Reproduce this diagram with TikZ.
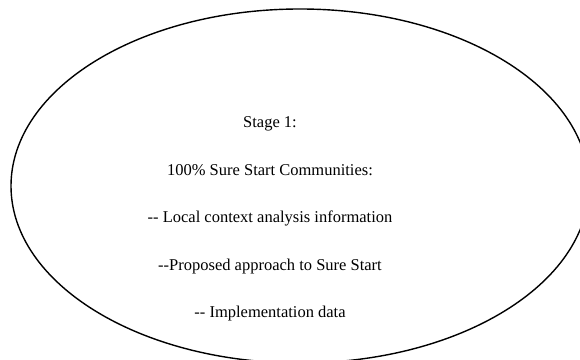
\documentclass[tikz,border=0pt]{standalone}
\usepackage{fontspec}
\setmainfont{Liberation Serif}
\usetikzlibrary{positioning}

\begin{document}
\begin{tikzpicture}[
  x=1pt, y=1pt,
  every node/.style={font=\fontsize{16.5}{20}\selectfont},
  outline/.style={draw=black, line width=1.4pt},
  item/.style={anchor=base, inner sep=0pt}
]

% page frame, the oval runs off the right and bottom edges
\useasboundingbox (0,0) rectangle (580,359);
\clip (0,0) rectangle (580,359);

\draw[outline] (300,173) ellipse [x radius=289, y radius=177];

% stacked lines, one every 47pt
\foreach \txt [count=\i] in {Stage 1:,
    100\% Sure Start Communities:,
    -{}- Local context analysis information,
    -{}-Proposed approach to Sure Start,
    -{}- Implementation data} {
  \node[item] (line\i) at (270, 359-128-47.4*\i+47.4) {\txt};
}

\end{tikzpicture}
\end{document}
